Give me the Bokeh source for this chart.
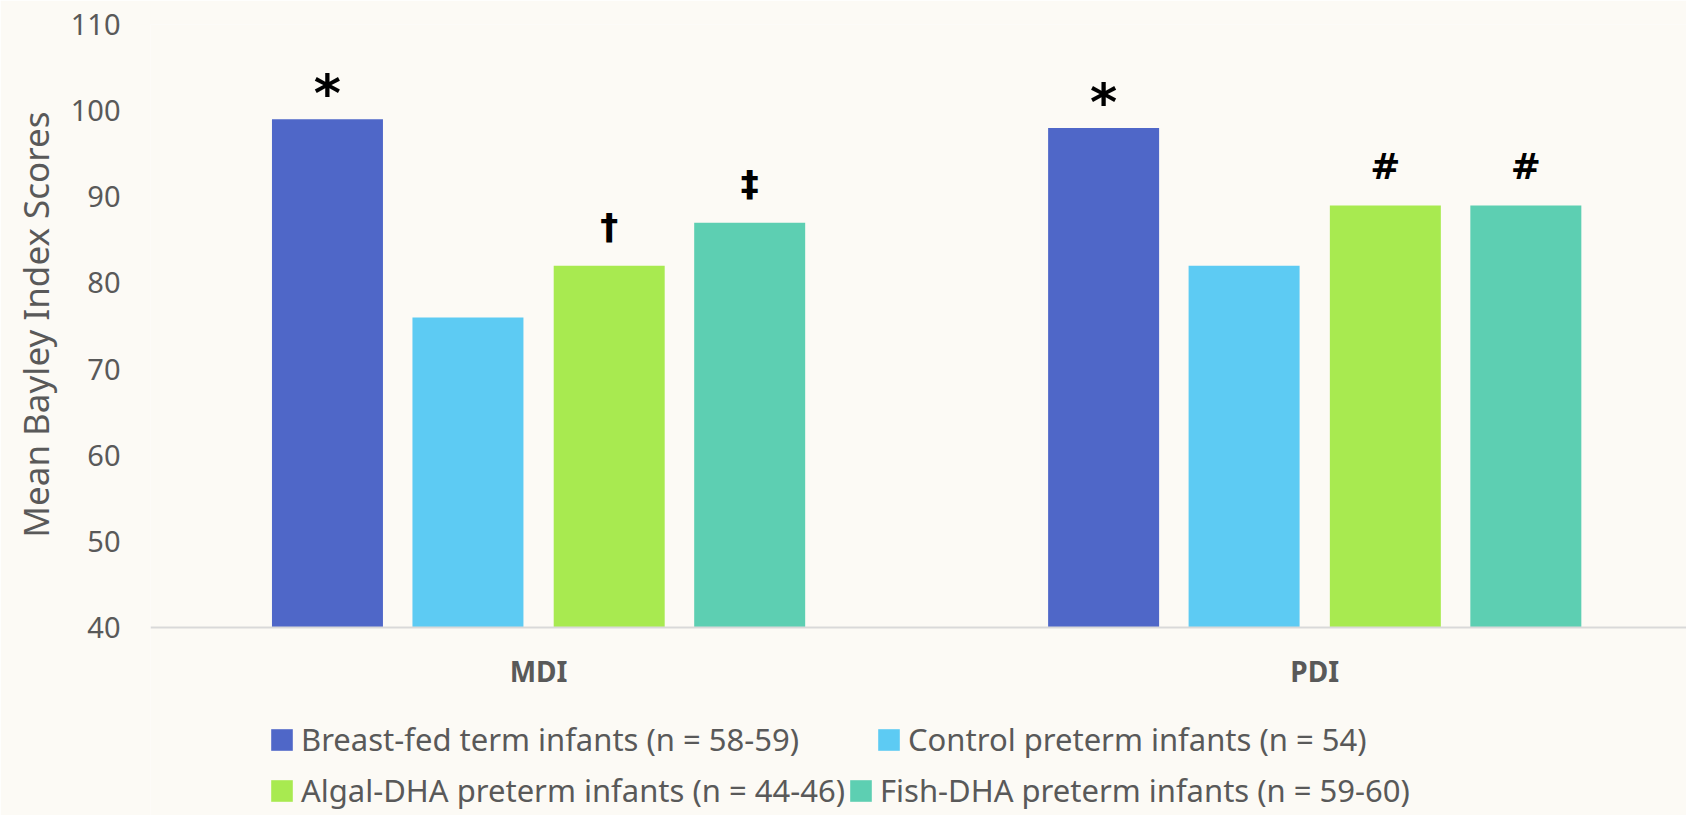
from bokeh.plotting import figure
from bokeh.models import Range1d, FixedTicker, Legend, LegendItem, ColumnDataSource, Title
from bokeh.transform import dodge
from bokeh.core.properties import value
from bokeh.embed import file_html
from bokeh.resources import INLINE

categories = ["MDI", "PDI"]
series_names = [
    "Breast-fed term infants (n = 58-59)",
    "Control preterm infants (n = 54)",
    "Algal-DHA preterm infants (n = 44-46)",
    "Fish-DHA preterm infants (n = 59-60)",
]
breast_fed = [99, 98]
control = [76, 82]
algal_dha = [82, 89]
fish_dha = [87, 89]
marks_breast_fed = ["*", "*"]
marks_control = ["", ""]
marks_algal_dha = ["†", "#"]
marks_fish_dha = ["‡", "#"]
y_ticks = [40, 50, 60, 70, 80, 90, 100, 110]
y_title = "Mean Bayley Index Scores"

colors = ["#4F67C8", "#5DCBF3", "#A8EA50", "#5DCFB2"]
offsets = [-0.272, -0.091, 0.091, 0.272]
bar_width = 0.143
FONT = "Noto Sans"
GREY = "#595959"
BG = "#FCFAF5"
BASE = y_ticks[0]

src = ColumnDataSource(dict(
    pos=[i + 0.5 for i in range(len(categories))],
    breast_fed=breast_fed, control=control, algal_dha=algal_dha, fish_dha=fish_dha,
    m_breast_fed=marks_breast_fed, m_control=marks_control,
    m_algal_dha=marks_algal_dha, m_fish_dha=marks_fish_dha,
))
fields = ["breast_fed", "control", "algal_dha", "fish_dha"]

p = figure(width=1686, height=815, output_backend="svg", toolbar_location=None,
           x_range=Range1d(0, 1.979), y_range=Range1d(18.19, 110),
           min_border_left=150, min_border_right=0, min_border_top=24, min_border_bottom=0)
p.background_fill_color = BG
p.border_fill_color = BG
p.outline_line_color = None
p.xgrid.visible = False
p.ygrid.visible = False

renderers = []
for f, off, c in zip(fields, offsets, colors):
    r = p.vbar(x=dodge("pos", off, range=p.x_range), top=f, bottom=BASE, width=bar_width,
               source=src, fill_color=c, line_color=None)
    renderers.append(r)

for f, off in zip(fields, offsets):
    is_star = f == "breast_fed"
    p.text(x=dodge("pos", off, range=p.x_range), y=f, text="m_" + f, source=src,
           text_align="center", text_baseline="alphabetic",
           y_offset=-26 if is_star else -39,
           text_font=value("DejaVu Sans"), text_font_style="bold",
           text_font_size="52px" if is_star else "36px", text_color="#000000")

# axes
xa = p.xaxis[0]
xa.fixed_location = BASE
xa.ticker = FixedTicker(ticks=[i + 0.5 for i in range(len(categories))])
xa.major_label_overrides = {i + 0.5: c for i, c in enumerate(categories)}
xa.axis_line_color = "#D9D9D9"
xa.axis_line_width = 2
xa.major_tick_line_color = None
xa.minor_tick_line_color = None
xa.major_label_text_font = FONT
xa.major_label_text_font_style = "bold"
xa.major_label_text_font_size = "28px"
xa.major_label_text_color = GREY
xa.major_label_standoff = 18

ya = p.yaxis[0]
ya.ticker = FixedTicker(ticks=y_ticks)
ya.axis_line_color = None
ya.major_tick_line_color = None
ya.minor_tick_line_color = None
ya.major_label_text_font = FONT
ya.major_label_text_font_size = "29px"
ya.major_label_text_color = GREY
ya.major_label_standoff = 24

ytitle = Title(text=y_title, align="right", offset=87, standoff=18,
               text_font=FONT, text_font_style="normal", text_font_size="35px",
               text_color=GREY)
p.add_layout(ytitle, "left")

def make_legend(idx, loc, spacing):
    lg = Legend(items=[LegendItem(label=series_names[i], renderers=[renderers[i]]) for i in idx],
                location=loc, orientation="horizontal", spacing=spacing,
                glyph_width=27, glyph_height=27, label_standoff=6,
                label_text_font=FONT, label_text_font_size="31px", label_text_color=GREY,
                padding=0, margin=0, border_line_color=None, background_fill_alpha=0)
    p.add_layout(lg, "center")

make_legend([0, 1], (118, 55), 76)
make_legend([2, 3], (118, 4), 2)

open("out.html", "w").write(file_html(p, INLINE))
